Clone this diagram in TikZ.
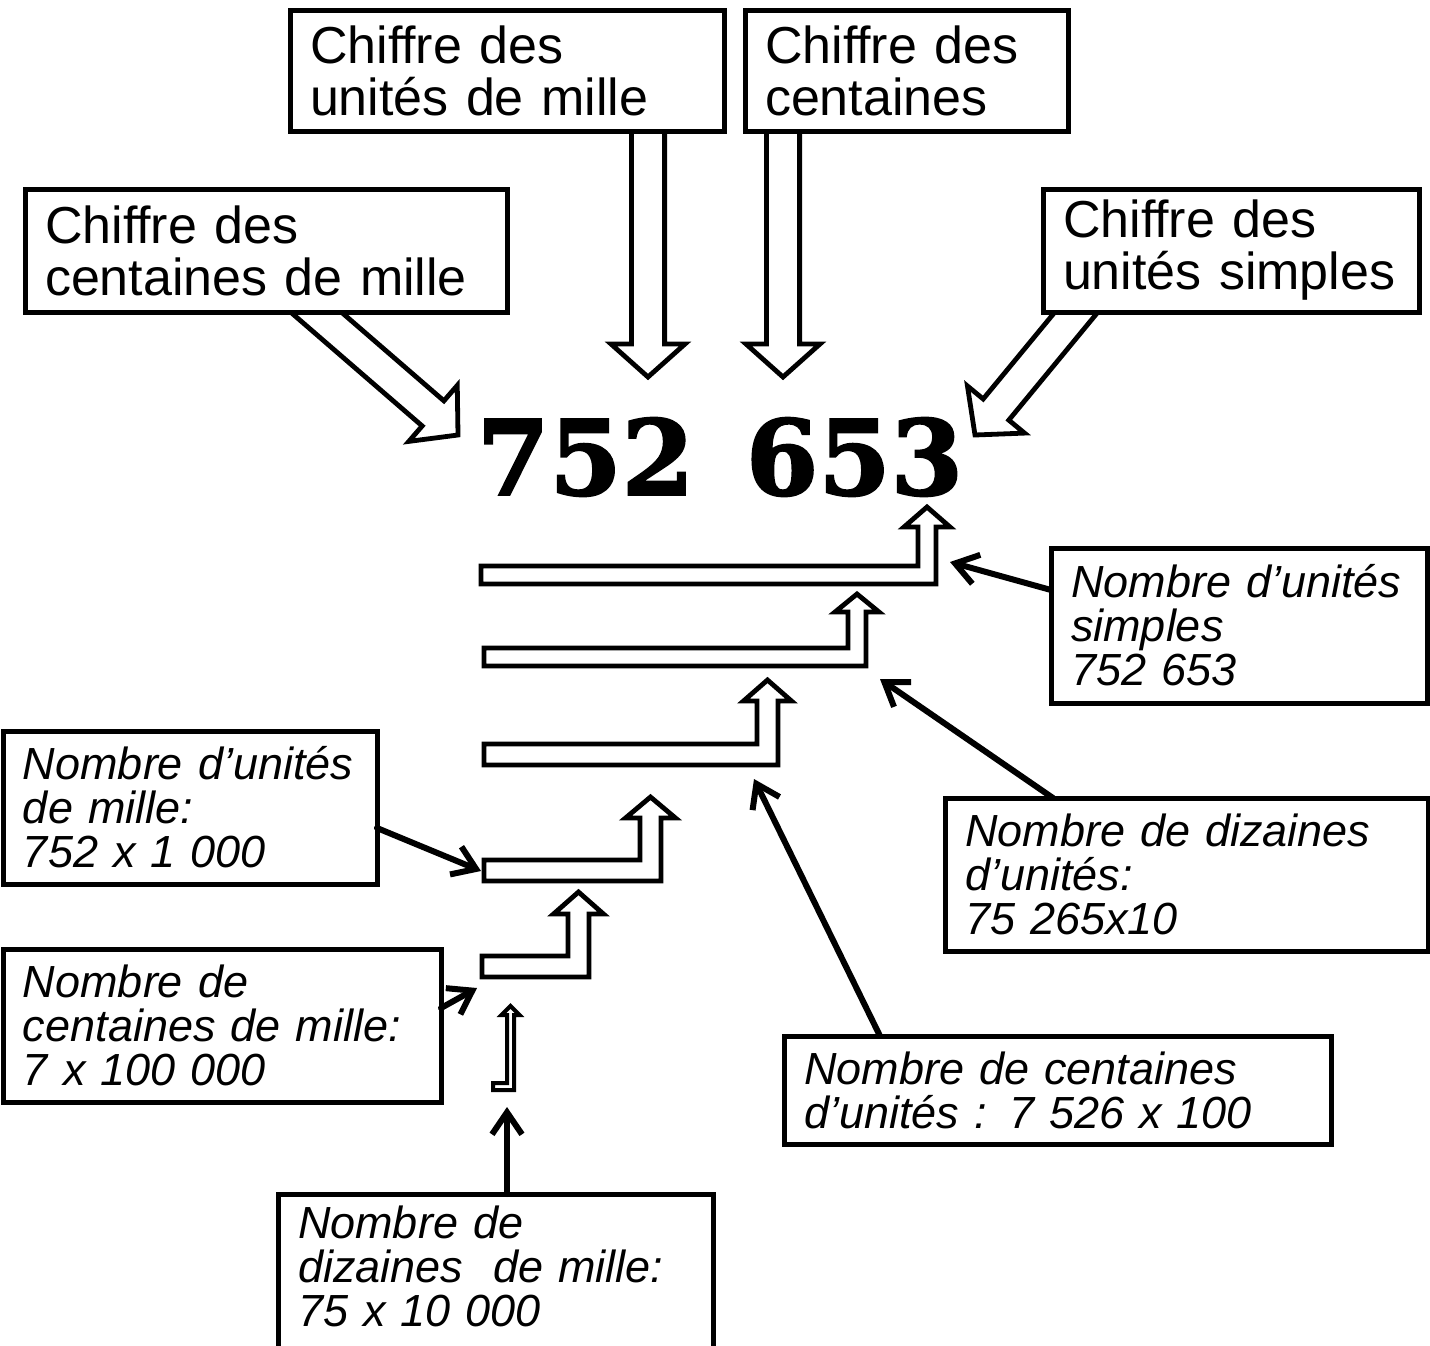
\documentclass[tikz,border=0pt]{standalone}
\usepackage{fontspec}
\setmainfont{Liberation Sans}
\newfontfamily\numfont{DejaVu Serif}[BoldFeatures={FakeBold=2}]
\usetikzlibrary{arrows.meta, calc}
\pgfdeclarelayer{bg}
\pgfsetlayers{bg,main}

% fat hollow arrow from #1 to #2
\newcommand\hollowarrow[2]{%
  \coordinate (hb) at ($(#2)!16.5pt!(#1)$);
  \draw[hollow] ($(#1)!8.3pt!90:(#2)$) -- ($(hb)!8.3pt!90:(#2)$) -- ($(hb)!18.5pt!90:(#2)$)
    -- (#2) -- ($(hb)!18.5pt!-90:(#2)$) -- ($(hb)!8.3pt!-90:(#2)$) -- ($(#1)!8.3pt!-90:(#2)$) -- cycle;}
% bent hollow arrow: left, bottom, right, thickness, head base, head half width, tip
\newcommand\bentarrow[8][]{%
  \draw[hollow, #1] (#2,{#3-#5}) -- ({#4-#5},{#3-#5}) -- ({#4-#5},#6) -- ({#4-#5/2-#7},#6)
    -- ({#4-#5/2},#8) -- ({#4-#5/2+#7},#6) -- (#4,#6) -- (#4,#3) -- (#2,#3) -- cycle;}

\begin{document}
\begin{tikzpicture}[x=0.5pt, y=-0.5pt,
    box/.style={draw, line width=2.5pt, fill=white, anchor=north west, outer sep=0pt, inner xsep=10pt, inner ysep=0pt, align=left},
    chiffre/.style={box, font=\fontsize{26}{26}\selectfont},
    nombre/.style={box, font=\fontsize{22.5}{22}\selectfont\itshape},
    hollow/.style={draw, line width=2.4pt, fill=white, line join=miter},
    pointer/.style={line width=3pt, line cap=round, -{Straight Barb[length=11pt, width=15pt]}}]
    \useasboundingbox (0,0) rectangle (1430,1345);
    % digit boxes
    \node[chiffre, minimum width=217pt, minimum height=60.5pt, text width=197pt] (ciUM) at (290,10) {Chiffre des\\unités de mille};
    \node[chiffre, minimum width=161.5pt, minimum height=60.5pt, text width=141.5pt] (ciC) at (745,10) {Chiffre des\\centaines};
    \node[chiffre, minimum width=241pt, minimum height=61.5pt, text width=221pt] (ciCM) at (25,189) {Chiffre des\\centaines de mille};
    \node[chiffre, minimum width=188pt, minimum height=61.5pt, text width=168pt] (ciU) at (1043,189) {Chiffre des\\unités simples};
    \node[font=\numfont\bfseries\fontsize{52}{52}\selectfont] (num) at (720,457) {752 \hspace{0.15em}653};
    % number boxes
    \node[nombre, minimum width=188pt, minimum height=77.5pt, text width=168pt] (noU) at (1051,548) {Nombre d’unités\\simples\\752 653};
    \node[nombre, minimum width=241.5pt, minimum height=76.5pt, text width=221.5pt] (noD) at (945,798) {Nombre de dizaines\\d’unités:\\75 265x10};
    \node[nombre, minimum width=273.5pt, minimum height=54pt, text width=253.5pt] (noC) at (784,1036) {Nombre de centaines\\d’unités : 7 526 x 100};
    \node[nombre, minimum width=187pt, minimum height=76.5pt, text width=167pt] (noUM) at (3,731) {Nombre d’unités\\de mille:\\752 x 1 000};
    \node[nombre, minimum width=219pt, minimum height=76.5pt, text width=199pt] (noCM) at (3,949) {Nombre de\\centaines de mille:\\7 x 100 000};
    \node[nombre, inner ysep=6pt, text depth=90pt, minimum width=217.5pt, text width=197.5pt] (noDM) at (278,1194) {Nombre de\\dizaines~~de mille:\\75 x 10 000};
    % hollow arrows onto the number
    \coordinate (sUM) at ($(ciUM.south west)+(358,0)$);
    \coordinate (sC) at ($(ciC.south west)+(38,0)$);
    \coordinate (sCM) at ($(ciCM.south west)+(277,-12)$);
    \coordinate (sU) at ($(ciU.south west)+(45,-14)$);
    \coordinate (hUM) at (648,377);
    \coordinate (hC) at (783,377);
    \coordinate (hCM) at (458,435);
    \coordinate (hU) at (975,435);
    \begin{pgfonlayer}{bg}
        \hollowarrow{sUM}{hUM}
        \hollowarrow{sC}{hC}
        \hollowarrow{sCM}{hCM}
        \hollowarrow{sU}{hU}
    \end{pgfonlayer}
    % stacked bent arrows
    \bentarrow{481}{584}{936}{18}{527}{23}{507}
    \bentarrow{484}{666}{866}{18}{612}{22}{594}
    \bentarrow{484}{765}{778}{21}{701}{24}{680}
    \bentarrow{484}{881}{661}{21}{818}{25}{797}
    \bentarrow{482}{977}{589}{21}{914}{25}{892}
    \bentarrow[line width=2pt]{493}{1090}{514}{7}{1015}{9}{1006}
    % pointers
    \coordinate (tU) at (950,562);
    \coordinate (tD) at (880,679);
    \coordinate (tC) at (754,779);
    \coordinate (tUM) at (481,871);
    \coordinate (tCM) at (477,988);
    \coordinate (tDM) at (507,1107);
    \draw[pointer] ($(noU.north west)+(0,42)$) -- (tU);
    \draw[pointer] ($(noD.north west)+(108,0)$) -- (tD);
    \draw[pointer] ($(noC.north west)+(96,0)$) -- (tC);
    \draw[pointer] ($(noUM.north east)+(0,97)$) -- (tUM);
    \draw[pointer] ($(noCM.north east)+(0,59)$) -- (tCM);
    \draw[pointer] ($(noDM.north west)+(229,0)$) -- (tDM);
\end{tikzpicture}
\end{document}
